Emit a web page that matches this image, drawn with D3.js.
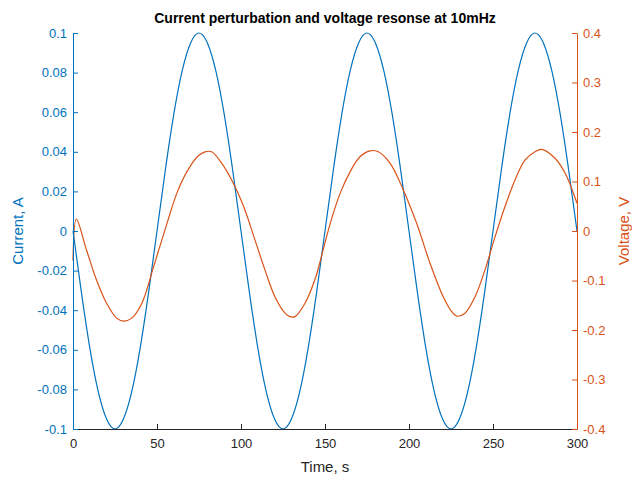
<!DOCTYPE html>
<html>
<head>
<meta charset="utf-8">
<script src="https://cdn.jsdelivr.net/npm/d3@7"></script>
<style>
  body { margin: 0; background: #fff; }
  svg { font-family: "Liberation Sans", Arial, sans-serif; }
</style>
</head>
<body>
<div id="chart"></div>
<script>
// current perturbation, sampled every 5 s
var timeCurrent = [0,5,10,15,20,25,30,35,40,45,50,55,60,65,70,75,80,85,90,95,
  100,105,110,115,120,125,130,135,140,145,150,155,160,165,170,175,180,185,190,195,
  200,205,210,215,220,225,230,235,240,245,250,255,260,265,270,275,280,285,290,295,300];
var current = [0,-0.031,-0.059,-0.081,-0.095,-0.1,-0.095,-0.081,-0.059,-0.031,
  0,0.031,0.059,0.081,0.095,0.1,0.095,0.081,0.059,0.031,
  0,-0.031,-0.059,-0.081,-0.095,-0.1,-0.095,-0.081,-0.059,-0.031,
  0,0.031,0.059,0.081,0.095,0.1,0.095,0.081,0.059,0.031,
  0,-0.031,-0.059,-0.081,-0.095,-0.1,-0.095,-0.081,-0.059,-0.031,
  0,0.031,0.059,0.081,0.095,0.1,0.095,0.081,0.059,0.031,0];

// voltage response
var timeVoltage = [0,2,8,14,20,26,30,35,41,48,56,62,68,74.6,78.6,82.5,88.5,96.4,
  102.4,108.3,114.3,120.2,126.2,129.2,132.1,138.1,144,147,153,159,165,170.8,176.8,
  181.7,188.7,196.6,204.5,212.5,220.4,225.4,228.4,233.3,239.3,245.2,251.2,257.1,
  263.1,269,275,279,286.9,292.9,300];
var voltage = [-0.06,0.024,-0.038,-0.099,-0.146,-0.176,-0.182,-0.176,-0.146,-0.072,
  0.016,0.078,0.121,0.152,0.160,0.160,0.137,0.090,0.042,-0.018,-0.079,-0.133,-0.166,
  -0.173,-0.173,-0.146,-0.098,-0.063,0.014,0.076,0.120,0.150,0.162,0.160,0.137,0.083,
  0.016,-0.065,-0.133,-0.163,-0.172,-0.166,-0.133,-0.079,-0.012,0.049,0.103,0.143,
  0.160,0.165,0.147,0.117,0.056];

var xTicks = [0,50,100,150,200,250,300];
var leftTicks = [-0.1,-0.08,-0.06,-0.04,-0.02,0,0.02,0.04,0.06,0.08,0.1];
var rightTicks = [-0.4,-0.3,-0.2,-0.1,0,0.1,0.2,0.3,0.4];

var blue = "#0072BD";
var orange = "#D95319";
var grey = "#262626";

var width = 632, height = 481;
var margin = {top: 33, right: 55, bottom: 52, left: 73};

var svg = d3.select("#chart").append("svg")
  .attr("width", width)
  .attr("height", height);

var x = d3.scaleLinear().domain([0, 300]).range([margin.left, width - margin.right]);
var yL = d3.scaleLinear().domain([-0.1, 0.1]).range([height - margin.bottom, margin.top]);
var yR = d3.scaleLinear().domain([-0.4, 0.4]).range([height - margin.bottom, margin.top]);

var fmt = function(d) { return String(+d.toFixed(2)); };

// lines
var lineI = d3.line()
  .x(function(d, i) { return x(timeCurrent[i]); })
  .y(function(d) { return yL(d); })
  .curve(d3.curveNatural);

var lineV = d3.line()
  .x(function(d, i) { return x(timeVoltage[i]); })
  .y(function(d) { return yR(d); })
  .curve(d3.curveCatmullRom.alpha(0.5));

svg.append("path")
  .datum(current)
  .attr("fill", "none")
  .attr("stroke", blue)
  .attr("stroke-width", 1.2)
  .attr("d", lineI);

svg.append("path")
  .datum(voltage)
  .attr("fill", "none")
  .attr("stroke", orange)
  .attr("stroke-width", 1.2)
  .attr("d", lineV);

/* axes, ticks point inward like matlab */
var xAxis = svg.append("g")
  .attr("transform", "translate(0," + (height - margin.bottom) + ")")
  .call(d3.axisBottom(x).tickValues(xTicks).tickSizeInner(-5).tickSizeOuter(0).tickPadding(10));
xAxis.selectAll("path, line").attr("stroke", grey);
xAxis.selectAll("text").attr("fill", grey).style("font-size", "13px");

var leftAxis = svg.append("g")
  .attr("transform", "translate(" + margin.left + ",0)")
  .call(d3.axisLeft(yL).tickValues(leftTicks).tickFormat(fmt).tickSizeInner(-5).tickSizeOuter(0).tickPadding(6));
leftAxis.selectAll("path, line").attr("stroke", blue);
leftAxis.selectAll("text").attr("fill", blue).style("font-size", "13px");

var rightAxis = svg.append("g")
  .attr("transform", "translate(" + (width - margin.right) + ",0)")
  .call(d3.axisRight(yR).tickValues(rightTicks).tickFormat(fmt).tickSizeInner(-5).tickSizeOuter(0).tickPadding(6));
rightAxis.selectAll("path, line").attr("stroke", orange);
rightAxis.selectAll("text").attr("fill", orange).style("font-size", "13px");

// labels
svg.append("text")
  .attr("x", (margin.left + width - margin.right) / 2)
  .attr("y", 23)
  .attr("text-anchor", "middle")
  .style("font-size", "14px")
  .style("font-weight", "bold")
  .attr("fill", "#000")
  .text("Current perturbation and voltage resonse at 10mHz");

svg.append("text")
  .attr("x", (margin.left + width - margin.right) / 2)
  .attr("y", 472)
  .attr("text-anchor", "middle")
  .style("font-size", "15px")
  .attr("fill", grey)
  .text("Time, s");

svg.append("text")
  .attr("transform", "translate(23," + yL(0) + ") rotate(-90)")
  .attr("text-anchor", "middle")
  .style("font-size", "15px")
  .attr("fill", blue)
  .text("Current, A");

svg.append("text")
  .attr("transform", "translate(629," + yR(0) + ") rotate(-90)")
  .attr("text-anchor", "middle")
  .style("font-size", "15px")
  .attr("fill", orange)
  .text("Voltage, V");
</script>
</body>
</html>
